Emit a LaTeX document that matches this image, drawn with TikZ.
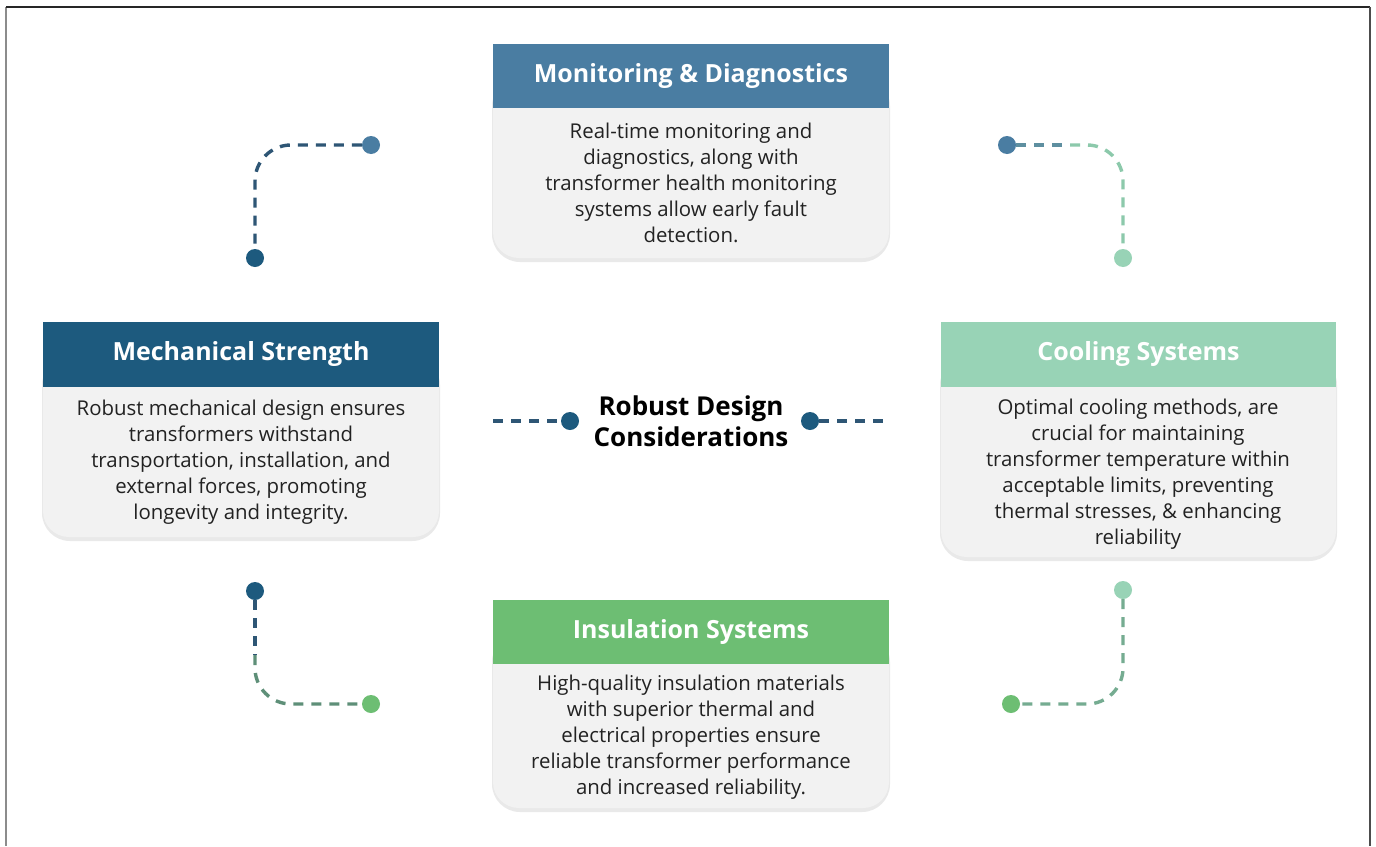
\documentclass[tikz,border=0pt]{standalone}
\usepackage{fontspec}
\setmainfont{Open Sans}
\definecolor{cMon}{HTML}{4A7DA2}
\definecolor{cMech}{HTML}{1D5A7E}
\definecolor{cCool}{HTML}{98D3B6}
\definecolor{cIns}{HTML}{6DBE73}
\definecolor{cBody}{HTML}{F2F2F2}
\definecolor{cShade}{HTML}{E9E9E9}
\definecolor{cTxt}{HTML}{222222}
\definecolor{cDash}{HTML}{2E5675}
\definecolor{cDashG}{HTML}{8CC9AB}
\definecolor{cDashM}{HTML}{5E8FA0}
\definecolor{cDashI}{HTML}{5E8F78}
\tikzset{
  hdr/.style={fill=#1, inner sep=0pt},
  htxt/.style={text=white, font=\fontsize{25}{28}\selectfont\bfseries, inner sep=0pt},
  btxt/.style={align=center, text=cTxt, font=\fontsize{20.4}{26}\selectfont, inner sep=0pt},
  dot/.style={circle, fill=#1, minimum size=18pt, inner sep=0pt},
  dashln/.style={draw=#1, line width=3.4pt, dash pattern=on 10pt off 8pt},
}
\newcommand{\card}[7]{% name, x0, y0, x1, yh, y1, color
  \fill[cShade, rounded corners=28pt] (#2-1,#5-30) rectangle (#4+1,#6+4);
  \fill[cBody, rounded corners=26pt] (#2,#5-30) rectangle (#4,#6);
  \node[hdr=#7, minimum width={(#4-#2)*1pt}, minimum height={(#5-#3)*1pt}] (#1) at ({(#2+#4)/2},{(#3+#5)/2}) {};
}
\begin{document}
\begin{tikzpicture}[x=1pt, y=-1pt]
\useasboundingbox (0,0) rectangle (1376,846);
\fill[white] (0,0) rectangle (1376,846);
% frame
\draw[gray!90, line width=2pt] (6,7) -- (6,846);
\draw[black!85, line width=1.5pt] (6,7) -- (1370,7);
\draw[black!70, line width=2pt] (1370,7) -- (1370,846);

% cards
\card{monH}{493}{44}{889}{108}{258}{cMon}
\card{mechH}{43}{322}{439}{387}{537}{cMech}
\card{coolH}{941}{322}{1336}{387}{557}{cCool}
\card{insH}{493}{600}{889}{664}{808}{cIns}

\node[htxt] (monT) at (monH) {Monitoring \& Diagnostics};
\node[htxt] (mechT) at (mechH) {Mechanical Strength};
\node[htxt] (coolT) at (coolH) {Cooling Systems};
\node[htxt] (insT) at (insH) {Insulation Systems};

\node[btxt] (monB) at (691,183) {Real-time monitoring and\\diagnostics, along with\\transformer health monitoring\\systems allow early fault\\detection.};
\node[btxt] (mechB) at (241,462) {Robust mechanical design ensures\\transformers withstand\\transportation, installation, and\\external forces, promoting\\longevity and integrity.};
\node[btxt] (coolB) at (1138,474) {Optimal cooling methods, are\\crucial for maintaining\\transformer temperature within\\acceptable limits, preventing\\thermal stresses, \& enhancing\\reliability};
\node[btxt] (insB) at (691,737) {High-quality insulation materials\\with superior thermal and\\electrical properties ensure\\reliable transformer performance\\and increased reliability.};

% center
\node[align=center, text=black, font=\fontsize{26}{31}\selectfont\bfseries, inner sep=0pt] (center) at (691,421) {Robust Design\\Considerations};
\coordinate (cl) at (493,421);
\coordinate (cr) at (889,421);
\node[dot=cMech] (dl) at (570,421) {};
\node[dot=cMech] (dr) at (810,421) {};
\draw[dashln=cDash] (cl) -- (dl.west);
\draw[dashln=cDash] (dr.east) -- (cr);

% top-left connector
\node[dot=cMon] (tl1) at (371,145) {};
\node[dot=cMech] (tl2) at (255,258) {};
\draw[dashln=cDash, rounded corners=36pt] (tl1.west) -| (tl2.north);

% top-right connector
\node[dot=cMon] (tr1) at (1007,145) {};
\node[dot=cCool] (tr2) at (1123,258) {};
\coordinate (trm) at (1070,145);
\draw[dashln=cDashM] (tr1.east) -- (trm);
\draw[dashln=cDashG, rounded corners=36pt] (trm) -| (tr2.north);

% bottom-left connector
\node[dot=cMech] (bl1) at (255,591) {};
\node[dot=cIns] (bl2) at (371,704) {};
\coordinate (blm) at (255,655);
\draw[dashln=cDash] (bl1.south) -- (blm);
\draw[dashln=cDashI, rounded corners=36pt] (blm) |- (bl2.west);

% bottom-right connector
\node[dot=cCool] (br1) at (1123,590) {};
\node[dot=cIns] (br2) at (1011,704) {};
\draw[dashln=cDashI!50!cDashG, rounded corners=36pt] (br1.south) |- (br2.east);
\end{tikzpicture}
\end{document}
